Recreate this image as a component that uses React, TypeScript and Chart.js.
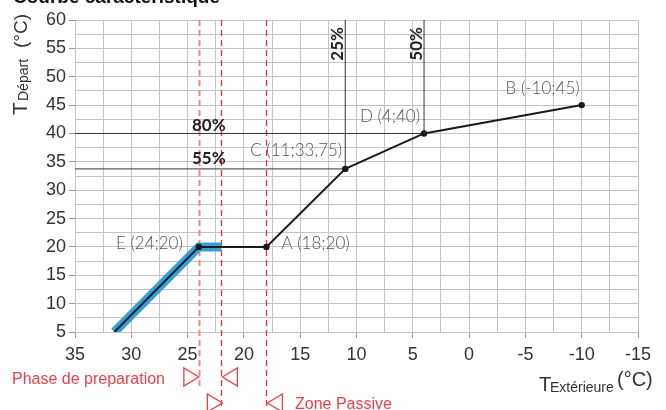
import React, { useEffect, useRef } from 'react';
import { Chart, registerables } from 'chart.js';

Chart.register(...registerables);

// ---- data ----
const curveX = [31.5, 24, 18, 11, 4, -10];
const curveY = [5, 20, 20, 33.75, 40, 45];
const pointNames = ['', 'E', 'A', 'C', 'D', 'B'];
const bandX = [31.5, 24, 22];
const bandY = [5, 20, 20];
const dashedX = [24, 22, 18];
const xMin = -15;
const xMax = 35;
const yMin = 5;
const yMax = 60;
const gridStep = 2.5;
const labelStep = 5;
const pctHorizontal = ['80%', '55%'];
const pctVertical = ['25%', '50%'];
const titleText = 'Courbe caractéristique';
const phaseText = 'Phase de preparation';
const zoneText = 'Zone Passive';

const fmt = (v: number) => String(v).replace('.', ',');

const idxC = 3;
const idxD = 4;

const curveData = curveX.map((x, i) => ({ x, y: curveY[i] }));
const bandData = bandX.map((x, i) => ({ x, y: bandY[i] }));

const overlay = {
  id: 'overlay',
  beforeDatasetsDraw(chart: any) {
    const ctx = chart.ctx;
    const xs = chart.scales.x;
    const ca = chart.chartArea;
    const ends = [388, 410, 410];
    const cols = ['#f2858f', '#e4323e', '#e4323e'];
    const widths = [2, 1.3, 1.3];
    ctx.save();
    dashedX.forEach((v, i) => {
      const x = Math.round(xs.getPixelForValue(v)) + 0.5;
      ctx.strokeStyle = cols[i];
      ctx.lineWidth = widths[i];
      ctx.setLineDash([6, 4]);
      ctx.beginPath();
      ctx.moveTo(x, ca.top);
      ctx.lineTo(x, ends[i]);
      ctx.stroke();
    });
    ctx.restore();
  },
  afterDraw(chart: any) {
    const ctx = chart.ctx;
    const xs = chart.scales.x;
    const ys = chart.scales.y;
    const ca = chart.chartArea;
    const px = (v: number) => xs.getPixelForValue(v);
    const py = (v: number) => ys.getPixelForValue(v);
    ctx.save();

    // title (cut at top)
    ctx.fillStyle = '#111';
    ctx.font = 'bold 19px "Liberation Sans", Arial, sans-serif';
    ctx.textAlign = 'left';
    ctx.textBaseline = 'alphabetic';
    ctx.fillText(titleText, 13, 3);

    // point labels
    ctx.fillStyle = '#555';
    ctx.font = '300 17px Lato, sans-serif';
    const offs: Record<string, [number, number, CanvasTextAlign]> = {
      E: [-16, -3, 'right'],
      A: [15, -3, 'left'],
      C: [-3, -18, 'right'],
      D: [-4, -17, 'right'],
      B: [-2, -17, 'right'],
    };
    ctx.textBaseline = 'middle';
    curveX.forEach((x, i) => {
      const n = pointNames[i];
      if (!n) return;
      const o = offs[n];
      ctx.textAlign = o[2];
      ctx.fillText(`${n} (${fmt(x)};${fmt(curveY[i])})`, px(x) + o[0], py(curveY[i]) + o[1]);
    });

    // percentage labels
    ctx.fillStyle = '#222';
    ctx.font = 'bold 17px Lato, sans-serif';
    ctx.textBaseline = 'alphabetic';
    ctx.textAlign = 'left';
    ctx.fillText(pctHorizontal[0], 192, py(curveY[idxD]) - 2);
    ctx.fillText(pctHorizontal[1], 192, py(curveY[idxC]) - 5);
    [curveX[idxC], curveX[idxD]].forEach((v, i) => {
      ctx.save();
      ctx.translate(px(v) - 2, ca.top + 7);
      ctx.rotate(-Math.PI / 2);
      ctx.textAlign = 'right';
      ctx.textBaseline = 'alphabetic';
      ctx.fillText(pctVertical[i], 0, 0);
      ctx.restore();
    });

    // y axis title
    ctx.save();
    ctx.fillStyle = '#333';
    ctx.translate(27, 115);
    ctx.rotate(-Math.PI / 2);
    ctx.textAlign = 'left';
    ctx.textBaseline = 'alphabetic';
    ctx.font = '21px "Liberation Sans", Arial, sans-serif';
    ctx.fillText('T', 0, 0);
    ctx.font = '14px "Liberation Sans", Arial, sans-serif';
    ctx.fillText('Départ', 14, 1);
    ctx.font = '19px "Liberation Sans", Arial, sans-serif';
    ctx.fillText('(°C)', 67, 0);
    ctx.restore();

    // x axis title
    ctx.fillStyle = '#333';
    ctx.textAlign = 'left';
    ctx.font = '20px "Liberation Sans", Arial, sans-serif';
    ctx.fillText('T', 539, 391);
    ctx.font = '14px "Liberation Sans", Arial, sans-serif';
    ctx.fillText('Extérieure', 550, 392);
    ctx.font = '20px "Liberation Sans", Arial, sans-serif';
    ctx.fillText('(°C)', 617, 386);

    // red annotations
    const red = '#e8414b';
    ctx.fillStyle = red;
    ctx.font = '16px "Liberation Sans", Arial, sans-serif';
    ctx.fillText(phaseText, 12, 384);
    ctx.fillText(zoneText, 295, 409);

    ctx.strokeStyle = red;
    ctx.lineWidth = 1.3;
    ctx.setLineDash([]);
    const tri = (tipX: number, cy: number, dir: number) => {
      ctx.beginPath();
      ctx.moveTo(tipX, cy);
      ctx.lineTo(tipX - dir * 15, cy - 9);
      ctx.lineTo(tipX - dir * 15, cy + 9);
      ctx.closePath();
      ctx.stroke();
    };
    tri(px(dashedX[0]), 377, 1);
    tri(px(dashedX[1]) + 1, 377, -1);
    tri(px(dashedX[1]) + 1, 403, 1);
    tri(px(dashedX[2]) + 1, 403, -1);

    ctx.restore();
  },
};

export default function App() {
  const ref = useRef<HTMLCanvasElement | null>(null);
  useEffect(() => {
    if (!ref.current) return;
    const gridColor = '#c4c4c4';
    const tickFont = { family: '"Liberation Sans", Arial, sans-serif', size: 18 };
    const isMajor = (v: number) => Math.abs(v / labelStep - Math.round(v / labelStep)) < 1e-6;
    const chart = new Chart(ref.current, {
      type: 'scatter',
      data: {
        datasets: [
          {
            data: curveData,
            showLine: true,
            borderColor: '#1a1a1a',
            borderWidth: 2,
            pointRadius: (c: any) => (c.dataIndex === 0 ? 0 : 3.2),
            pointBackgroundColor: '#1a1a1a',
            pointBorderWidth: 0,
            order: 0,
            clip: 0,
          } as any,
          {
            data: [
              { x: xMax, y: curveY[idxD] },
              { x: curveX[idxD], y: curveY[idxD] },
              { x: curveX[idxD], y: yMax },
            ],
            showLine: true,
            borderColor: '#333',
            borderWidth: 1,
            pointRadius: 0,
            order: 1,
          },
          {
            data: [
              { x: xMax, y: curveY[idxC] },
              { x: curveX[idxC], y: curveY[idxC] },
              { x: curveX[idxC], y: yMax },
            ],
            showLine: true,
            borderColor: '#333',
            borderWidth: 1,
            pointRadius: 0,
            order: 1,
          },
          {
            data: bandData,
            showLine: true,
            borderColor: '#34a0da',
            borderWidth: 9,
            borderJoinStyle: 'miter',
            pointRadius: 0,
            order: 2,
            clip: 0,
          } as any,
        ],
      },
      options: {
        responsive: false,
        animation: false,
        devicePixelRatio: 1,
        layout: { padding: { left: 0, top: 20, right: 28, bottom: 0 } },
        plugins: { legend: { display: false }, tooltip: { enabled: false } },
        scales: {
          x: {
            type: 'linear',
            reverse: true,
            min: xMin,
            max: xMax,
            afterFit: (s: any) => {
              s.height = 78;
            },
            border: { color: gridColor, width: 1 },
            grid: {
              color: gridColor,
              lineWidth: 1,
              tickLength: 6,
              tickColor: (c: any) => (c.tick && isMajor(c.tick.value) ? '#999' : 'rgba(0,0,0,0)'),
            },
            ticks: {
              stepSize: gridStep,
              autoSkip: false,
              maxRotation: 0,
              padding: 6,
              color: '#333',
              font: tickFont,
              callback: (v: any) => (isMajor(Number(v)) ? String(v) : ''),
            },
          },
          y: {
            type: 'linear',
            min: yMin,
            max: yMax,
            afterFit: (s: any) => {
              s.width = 75;
            },
            border: { color: gridColor, width: 1 },
            grid: {
              color: gridColor,
              lineWidth: 1,
              tickLength: 6,
              tickColor: (c: any) => (c.tick && isMajor(c.tick.value) ? '#999' : 'rgba(0,0,0,0)'),
            },
            ticks: {
              stepSize: gridStep,
              autoSkip: false,
              padding: 3,
              color: '#333',
              font: tickFont,
              callback: (v: any) => (isMajor(Number(v)) ? String(v) : ''),
            },
          },
        },
      } as any,
      plugins: [overlay],
    });
    return () => chart.destroy();
  }, []);
  return (
    <div style={{ position: 'fixed', left: 0, top: 0, width: 666, height: 410, background: '#fff' }}>
      <canvas ref={ref} width={666} height={410} style={{ width: 666, height: 410, display: 'block' }} />
    </div>
  );
}
